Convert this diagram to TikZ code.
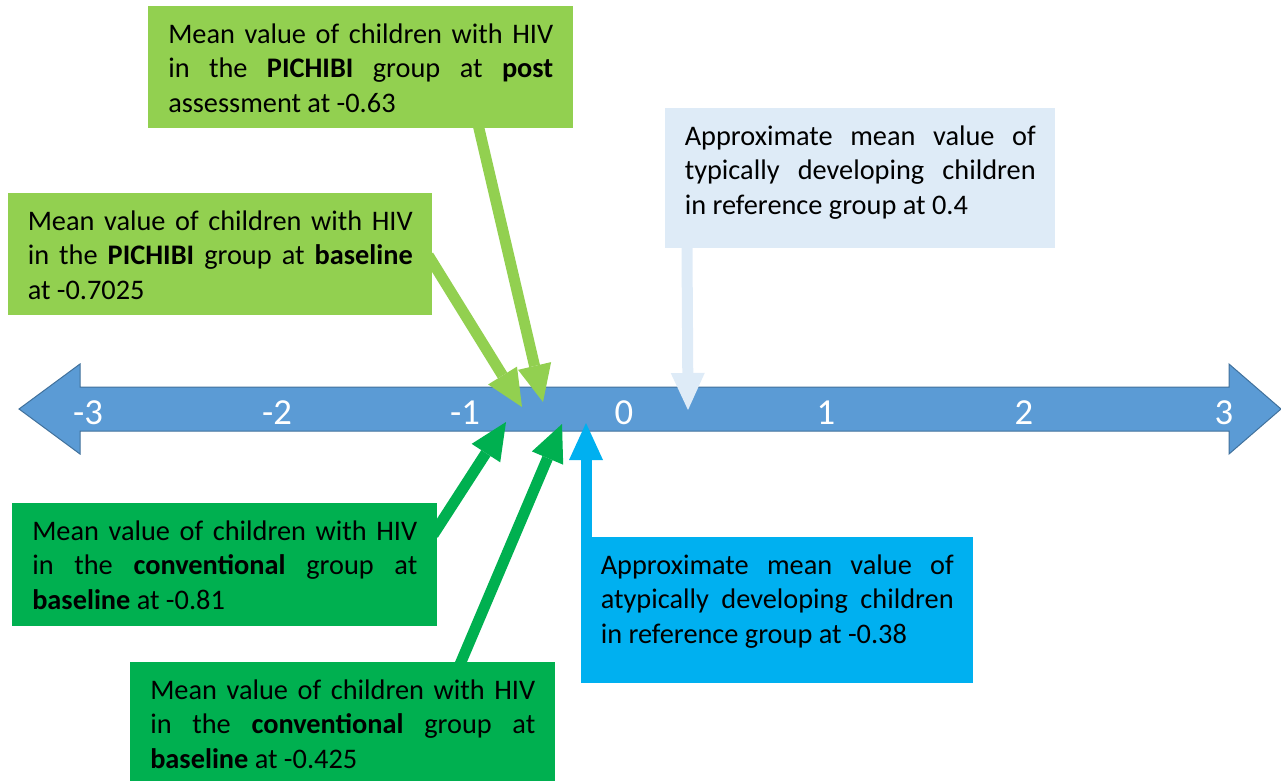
\documentclass[tikz,border=0pt]{standalone}
\usepackage{fontspec}
\setmainfont{Carlito}
\usetikzlibrary{arrows.meta}
\definecolor{lgreen}{HTML}{92D050}
\definecolor{dgreen}{HTML}{00B050}
\definecolor{cyanb}{HTML}{00B0F0}
\definecolor{paleb}{HTML}{DEEBF7}
\definecolor{axisb}{HTML}{5B9BD5}
\definecolor{axisedge}{HTML}{41719C}
\pgfdeclarelayer{axislayer}
\pgfdeclarelayer{linklayer}
\pgfsetlayers{axislayer,linklayer,main}
\tikzset{
  boxtext/.style={anchor=north west, inner ysep=0pt, text height=27.75pt, align=justify,
    font=\fontsize{21.25}{25.9}\selectfont, text=black,
    execute at begin node={\tolerance=9999\emergencystretch=3em\hyphenpenalty=10000\exhyphenpenalty=10000\relax}},
  widebox/.style={text width=288.75pt, inner xsep=15pt},
  midbox/.style={text width=288.75pt, inner xsep=14.625pt},
  refbox/.style={text width=263.25pt, inner xsep=14.625pt},
  atbox/.style={text width=264.75pt, inner xsep=14.625pt},
  conn/.style={line width=8.25pt, shorten <=-6pt,
    -{Triangle[length=27.75pt,width=25.5pt,line width=0pt]}},
  num/.style={anchor=base, text=white, inner sep=0pt, font=\fontsize{27.5}{30}\selectfont},
}
\begin{document}
\begin{tikzpicture}[x=0.75pt,y=-0.75pt]
\useasboundingbox (0,0) rectangle (1281,781);

% boxes
\node[boxtext, widebox, fill=lgreen, text depth=63.75pt] (post) at (148,6)
  {Mean value of children with HIV\linebreak in the \textbf{PICHIBI} group at \textbf{post}\linebreak assessment at -0.63};
\node[boxtext, midbox, fill=lgreen, text depth=63.75pt] (base) at (8,193)
  {Mean value of children with HIV\linebreak in the \textbf{PICHIBI} group at \textbf{baseline}\linebreak at -0.7025};
\node[boxtext, refbox, fill=paleb, text depth=77.25pt] (typ) at (665,108)
  {Approximate mean value of\linebreak typically developing children\linebreak in reference group at 0.4};
\node[boxtext, widebox, fill=dgreen, text depth=64.5pt] (conv81) at (12,503)
  {Mean value of children with HIV\linebreak in the \textbf{conventional} group at\linebreak \textbf{baseline} at -0.81};
\node[boxtext, widebox, fill=dgreen, text depth=64.5pt] (conv425) at (130,662)
  {Mean value of children with HIV\linebreak in the \textbf{conventional} group at\linebreak \textbf{baseline} at -0.425};
\node[boxtext, atbox, fill=cyanb, text depth=81.75pt] (atyp) at (581,537)
  {Approximate mean value of\linebreak atypically developing children\linebreak in reference group at -0.38};

% axis arrow
\begin{pgfonlayer}{axislayer}
\draw[fill=axisb, draw=axisedge, line width=0.75pt, line join=miter]
  (19,409) -- (80,364) -- (80,387) -- (1229,387) -- (1229,364) -- (1281,409)
  -- (1229,454) -- (1229,431) -- (80,431) -- (80,454) -- cycle;
\end{pgfonlayer}
\node[num] (nm3) at (88,424) {-3};
\node[num] (nm2) at (277,424) {-2};
\node[num] (nm1) at (465,424) {-1};
\node[num] (n0) at (624,424) {0};
\node[num] (n1) at (826,424) {1};
\node[num] (n2) at (1024,424) {2};
\node[num] (n3) at (1224,424) {3};

% tips
\coordinate (tpost) at (543,402);
\coordinate (tbase) at (522,407);
\coordinate (t81) at (506,422);
\coordinate (t425) at (562,424);
\coordinate (tatyp) at (586,423);
\coordinate (ttyp) at (688,410);

\begin{pgfonlayer}{linklayer}
\draw[conn, lgreen] ([xshift=248.25pt]post.south west) -- (tpost);
\draw[conn, lgreen] ([yshift=-6pt]base.east) -- (tbase);
\draw[conn, dgreen] ([yshift=-18.75pt]conv81.north east) -- (t81);
\draw[conn, dgreen] ([xshift=248.25pt]conv425.north west) -- (t425);
\draw[conn, cyanb] ([xshift=3.75pt]atyp.north west) -- (tatyp);
\draw[conn, paleb] ([xshift=16.5pt]typ.south west) -- (ttyp);
\end{pgfonlayer}
\end{tikzpicture}
\end{document}
